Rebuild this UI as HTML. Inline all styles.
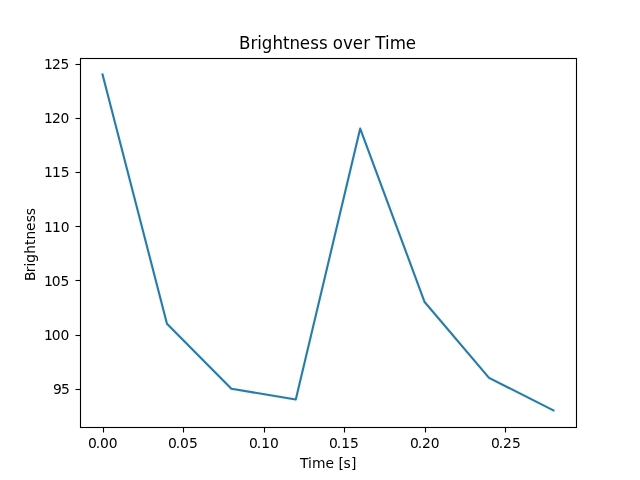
<!DOCTYPE html>
<html lang="en">
<head>
<meta charset="utf-8">
<title>Brightness over Time</title>
<style>
html,body{margin:0;padding:0;background:#fff;width:640px;height:480px;overflow:hidden}
svg{display:block}
svg text{font-family:"DejaVu Sans","Liberation Sans",sans-serif;fill:#000}
.tick{font-size:13.889px}
.title{font-size:16.667px}
.ax{stroke:#000;stroke-width:1.111;fill:none;stroke-linecap:square}
.tk{stroke:#000;stroke-width:1.111;fill:none;stroke-linecap:butt}
</style>
</head>
<body>
<svg width="640" height="480" viewBox="0 0 640 480">
<rect x="0" y="0" width="640" height="480" fill="#ffffff"/>
<line class="tk" x1="103.5" y1="427.5" x2="103.5" y2="432.5"/>
<text id="x000" class="tick" x="87.95 95.76 99.93 108.76" y="448">0.00</text>
<line class="tk" x1="183.5" y1="427.5" x2="183.5" y2="432.5"/>
<text id="x005" class="tick" x="168.10 175.66 180.08 188.91" y="448">0.05</text>
<line class="tk" x1="264.5" y1="427.5" x2="264.5" y2="432.5"/>
<text id="x010" class="tick" x="248.98 256.79 261.21 270.04" y="448">0.10</text>
<line class="tk" x1="344.5" y1="427.5" x2="344.5" y2="432.5"/>
<text id="x015" class="tick" x="329.04 336.85 341.27 350.10" y="448">0.15</text>
<line class="tk" x1="425.5" y1="427.5" x2="425.5" y2="432.5"/>
<text id="x020" class="tick" x="410.11 417.67 422.09 430.67" y="448">0.20</text>
<line class="tk" x1="505.5" y1="427.5" x2="505.5" y2="432.5"/>
<text id="x025" class="tick" x="491.01 498.82 502.99 512.07" y="448">0.25</text>
<line class="tk" x1="75.5" y1="389.5" x2="80.5" y2="389.5"/>
<text id="y95" class="tick" x="53.09 60.91" y="394.05">95</text>
<line class="tk" x1="75.5" y1="335.5" x2="80.5" y2="335.5"/>
<text id="y100" class="tick" x="43.89 51.70 60.53" y="339.87">100</text>
<line class="tk" x1="75.5" y1="280.5" x2="80.5" y2="280.5"/>
<text id="y105" class="tick" x="44.05 51.86 60.44" y="285.67">105</text>
<line class="tk" x1="75.5" y1="226.5" x2="80.5" y2="226.5"/>
<text id="y110" class="tick" x="44.01 52.07 60.65" y="232.44">110</text>
<line class="tk" x1="75.5" y1="172.5" x2="80.5" y2="172.5"/>
<text id="y115" class="tick" x="43.91 51.97 60.80" y="177.26">115</text>
<line class="tk" x1="75.5" y1="118.5" x2="80.5" y2="118.5"/>
<text id="y120" class="tick" x="43.93 51.99 60.57" y="123.05">120</text>
<line class="tk" x1="75.5" y1="64.5" x2="80.5" y2="64.5"/>
<text id="y125" class="tick" x="44.08 51.89 60.47" y="68.86">125</text>
<text id="xlab" class="tick" x="300.11 307.91 312.00 325.52 334.56 338.47 343.62 351.11" y="468">Time [s]</text>
<text id="ylab" class="tick" x="-1.36 7.40 13.11 16.97 26.01 34.81 40.25 48.80 57.33 64.56" y="244.34" transform="rotate(-90 35.35 244.34)">Brightness</text>
<polyline points="102.545,74.4 166.961,323.69 231.377,388.723 295.792,399.561 360.208,128.594 424.623,302.013 489.039,377.884 553.455,410.4" fill="none" stroke="#33ffff" stroke-opacity="0.1" stroke-width="5" stroke-linecap="square" stroke-linejoin="round"/>
<polyline points="102.545,74.4 166.961,323.69 231.377,388.723 295.792,399.561 360.208,128.594 424.623,302.013 489.039,377.884 553.455,410.4" fill="none" stroke="#3d7397" stroke-width="2.083" stroke-linecap="square" stroke-linejoin="round"/>
<rect class="ax" x="80.5" y="58.5" width="496.0" height="369.0"/>
<text id="title" class="title" x="239.13 250.56 257.15 261.79 272.60 282.92 289.45 299.77 310.27 318.95 327.38 332.68 343.12 352.73 363.23 369.84 375.13 385.04 389.68 405.66" y="49" transform="translate(0 49) scale(1 1.1) translate(0 -49)">Brightness over Time</text>
</svg>
</body>
</html>
